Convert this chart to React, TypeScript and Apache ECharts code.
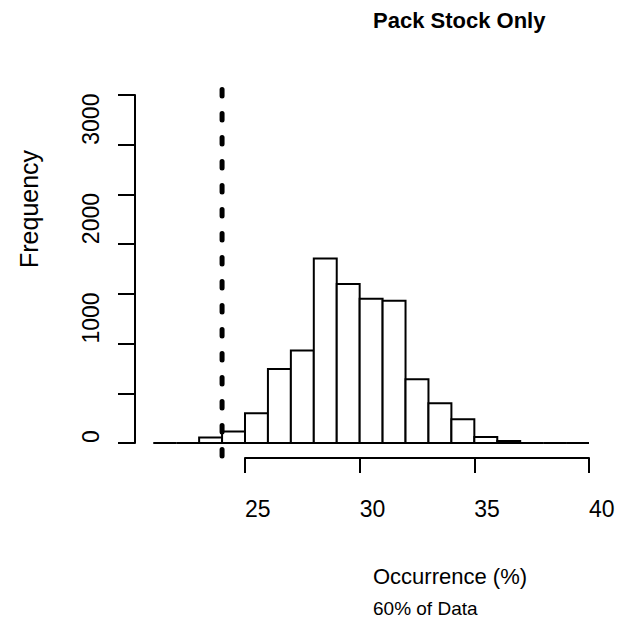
import React, { useEffect, useRef } from "react";
import * as echarts from "echarts";

// Histogram bins (width 1) and their frequencies
const binStarts = [21, 22, 23, 24, 25, 26, 27, 28, 29, 30, 31, 32, 33, 34, 35, 36, 37, 38, 39];
const counts = [0, 0, 55, 115, 300, 745, 930, 1855, 1600, 1450, 1430, 640, 400, 240, 60, 20, 0, 0, 0];
const binWidth = 1;

// Axis ticks
const xTicks = [25, 30, 35, 40];
const yTickLabels = [0, 1000, 2000, 3000];

// Reference line
const refX = 24;
const refLineY = [3555, -180];

const titleText = "Pack Stock Only";
const xLabel = "Occurrence (%)";
const yLabel = "Frequency";
const subText = "60% of Data";

const FONT = "'Liberation Sans', Arial, Helvetica, sans-serif";

export default function App() {
  const ref = useRef<HTMLDivElement>(null);
  useEffect(() => {
    if (!ref.current) return;
    const chart = echarts.init(ref.current, null, { renderer: "svg" });
    const pxPerX = 344 / 15;
    const pxPerY = 348 / 3500;
    const xMin = 20, xMax = 41, yMin = -200, yMax = 3700;
    const plotLeft = 245 - (25 - xMin) * pxPerX;
    const plotTop = 443 - yMax * pxPerY;

    const barData = binStarts.map((s, i) => [s, s + binWidth, counts[i]]);

    chart.setOption({
      animation: false,
      backgroundColor: "#ffffff",
      grid: [
        { left: plotLeft, top: plotTop, width: (xMax - xMin) * pxPerX, height: (yMax - yMin) * pxPerY },
        { left: 245, top: 300, width: 344, height: 158 },
        { left: 135, top: 95, width: 100, height: 348 },
      ],
      xAxis: [
        { type: "value", gridIndex: 0, min: xMin, max: xMax, show: false },
        {
          type: "value", gridIndex: 1, min: xTicks[0], max: xTicks[xTicks.length - 1], interval: 5,
          position: "bottom",
          axisLine: { show: true, lineStyle: { color: "#000", width: 2 } },
          axisTick: { show: true, inside: false, length: 15, lineStyle: { color: "#000", width: 2 } },
          axisLabel: {
            show: true, margin: 51, align: "left", verticalAlign: "middle",
            color: "#000", fontSize: 23, fontFamily: FONT,
            formatter: (v: number) => (xTicks.includes(v) ? String(v) : ""),
          },
          splitLine: { show: false },
        },
        { type: "value", gridIndex: 2, min: 0, max: 1, show: false },
      ],
      yAxis: [
        { type: "value", gridIndex: 0, min: yMin, max: yMax, show: false },
        { type: "value", gridIndex: 1, min: 0, max: 1, show: false },
        {
          type: "value", gridIndex: 2, min: 0, max: 3500, interval: 500,
          position: "left",
          axisLine: { show: true, lineStyle: { color: "#000", width: 2 } },
          axisTick: { show: true, inside: false, length: 17, lineStyle: { color: "#000", width: 2 } },
          axisLabel: {
            show: true, margin: 44, rotate: 90, align: "left", verticalAlign: "middle",
            color: "#000", fontSize: 23, fontFamily: FONT,
            formatter: (v: number) => (yTickLabels.includes(v) ? String(v) : ""),
          },
          splitLine: { show: false },
        },
      ],
      series: [
        {
          type: "custom",
          xAxisIndex: 0,
          yAxisIndex: 0,
          data: barData,
          renderItem: (params: any, api: any) => {
            const x0 = api.value(0), x1 = api.value(1), c = api.value(2);
            const pA = api.coord([x0, 0]);
            const pB = api.coord([x1, c]);
            return {
              type: "polygon",
              shape: { points: [[pA[0], pA[1]], [pA[0], pB[1]], [pB[0], pB[1]], [pB[0], pA[1]]] },
              style: { fill: "#ffffff", stroke: "#000000", lineWidth: 2 },
            };
          },
        },
        {
          type: "line",
          xAxisIndex: 0,
          yAxisIndex: 0,
          data: refLineY.map((y) => [refX, y]),
          symbol: "none",
          lineStyle: { color: "#000", width: 5, type: [6.5, 17.5], cap: "round" },
          z: 5,
        },
      ],
      graphic: [
        {
          type: "text", x: 373, y: 20,
          style: { text: titleText, font: `bold 22px ${FONT}`, fill: "#000", align: "left", verticalAlign: "middle" },
        },
        {
          type: "text", x: 373, y: 576,
          style: { text: xLabel, font: `22px ${FONT}`, fill: "#000", align: "left", verticalAlign: "middle" },
        },
        {
          type: "text", x: 373, y: 608,
          style: { text: subText, font: `19px ${FONT}`, fill: "#000", align: "left", verticalAlign: "middle" },
        },
        {
          type: "text", x: 29, y: 268, rotation: Math.PI / 2,
          style: { text: yLabel, font: `25px ${FONT}`, fill: "#000", align: "left", verticalAlign: "middle" },
        },
      ],
    });
    return () => chart.dispose();
  }, []);
  return (
    <div
      ref={ref}
      style={{ position: "fixed", left: 0, top: 0, width: 630, height: 623, background: "#fff" }}
    />
  );
}
